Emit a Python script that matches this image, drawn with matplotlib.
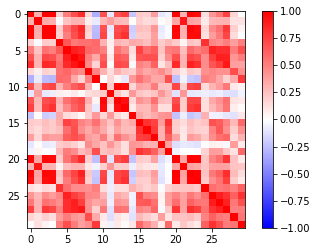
import numpy as np
import matplotlib
matplotlib.use("Agg")
import matplotlib.pyplot as plt

# upper triangle of the correlation matrix, one list per row
upper_rows = [
    [1, .32, .99, .99, .17, .51, .68, .82, .15, -.31, .68, -.10, .67, .74, -.22, .21, .19, .38, -.10, -.04, .97, .30, .97, .94, .12, .41, .53, .74, .16, .01],
    [1, .33, .32, -.02, .24, .30, .29, .07, -.08, .28, .39, .28, .26, .01, .19, .14, .16, .01, .05, .35, .91, .36, .34, .08, .28, .30, .30, .11, .12],
    [1, .99, .21, .56, .72, .85, .18, -.26, .69, -.09, .69, .74, -.20, .25, .23, .41, -.08, -.01, .97, .30, .97, .94, .15, .46, .56, .77, .19, .05],
    [1, .18, .50, .69, .82, .15, -.28, .73, -.07, .73, .80, -.17, .21, .21, .37, -.07, -.02, .96, .29, .96, .96, .12, .39, .51, .72, .14, .00],
    [1, .66, .52, .55, .56, .58, .30, .07, .30, .25, .33, .32, .25, .38, .20, .28, .21, .04, .24, .21, .81, .47, .43, .50, .39, .50],
    [1, .88, .83, .60, .57, .50, .05, .55, .46, .14, .74, .57, .64, .23, .51, .54, .25, .59, .51, .57, .87, .82, .82, .51, .69],
    [1, .92, .50, .34, .63, .08, .66, .62, .10, .67, .69, .68, .18, .45, .69, .30, .73, .68, .45, .75, .88, .86, .41, .51],
    [1, .46, .17, .70, .02, .71, .69, .03, .49, .44, .62, .10, .26, .83, .29, .86, .81, .45, .67, .75, .91, .38, .37],
    [1, .48, .30, .13, .31, .22, .19, .42, .34, .39, .45, .33, .19, .09, .22, .18, .43, .47, .43, .43, .70, .44],
    [1, .00, .16, .04, -.09, .40, .56, .45, .34, .35, .69, -.25, -.05, -.21, -.23, .50, .46, .35, .18, .33, .77],
    [1, .21, .97, .95, .16, .36, .33, .51, .24, .23, .72, .19, .72, .75, .14, .29, .38, .53, .09, .05],
    [1, .22, .11, .40, .23, .19, .23, .41, .28, -.11, .41, -.10, -.08, -.07, -.09, -.07, -.12, -.13, -.05],
    [1, .94, .15, .42, .36, .56, .27, .24, .70, .20, .72, .73, .13, .34, .42, .55, .11, .09],
    [1, .08, .28, .27, .42, .13, .13, .76, .20, .76, .81, .13, .28, .39, .54, .07, .02],
    [1, .34, .27, .33, .41, .43, -.23, -.07, -.22, -.18, .31, -.06, -.06, -.10, -.11, .10],
    [1, .80, .74, .39, .80, .20, .14, .26, .20, .23, .68, .64, .48, .28, .59],
    [1, .77, .31, .73, .19, .10, .23, .19, .17, .48, .66, .44, .20, .44],
    [1, .31, .61, .36, .09, .39, .34, .22, .45, .55, .60, .14, .31],
    [1, .37, -.13, -.08, -.10, -.11, -.01, .06, .04, -.03, .39, .08],
    [1, -.04, -.00, -.00, -.02, .17, .39, .38, .22, .11, .59],
    [1, .36, .99, .98, .22, .48, .57, .79, .24, .09],
    [1, .37, .35, .23, .36, .37, .36, .23, .22],
    [1, .98, .24, .53, .62, .82, .27, .14],
    [1, .21, .44, .54, .75, .21, .08],
    [1, .57, .52, .55, .49, .62],
    [1, .89, .80, .61, .81],
    [1, .86, .53, .69],
    [1, .50, .51],
    [1, .54],
    [1],
]
x_ticks = [0, 5, 10, 15, 20, 25]
cbar_ticks = [-1, -.75, -.5, -.25, 0, .25, .5, .75, 1]

n = len(upper_rows)
corr = np.zeros((n, n))
for i, row in enumerate(upper_rows):
    corr[i, i:] = row
    corr[i:, i] = row

W, H = 316, 252
fig = plt.figure(figsize=(W / 72, H / 72), dpi=72)
ax = fig.add_axes([27.3 / W, 1 - 228.3 / H, 217.4 / W, 217.7 / H])
im = ax.imshow(corr, cmap="bwr", vmin=-1, vmax=1, aspect="auto")
ax.set_xticks(x_ticks)
ax.set_yticks(x_ticks)

cax = fig.add_axes([261.5 / W, 1 - 228.3 / H, 11.2 / W, 217.7 / H])
cb = fig.colorbar(im, cax=cax)
cb.set_ticks(cbar_ticks)

fig.savefig("out.png", dpi=72)
